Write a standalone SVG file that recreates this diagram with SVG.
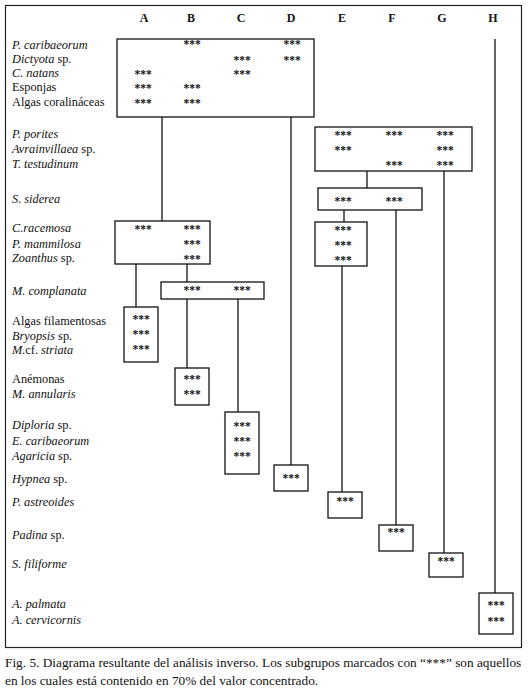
<svg xmlns="http://www.w3.org/2000/svg" width="528" height="691" viewBox="0 0 528 691">
<style>
text{font-family:"Liberation Serif","Times New Roman",serif;fill:#111}
.lb{font-size:12.3px}
.i{font-style:italic}
.hd{font-size:12px;font-weight:bold;text-anchor:middle}
.st{font-size:11.5px;font-weight:bold;text-anchor:middle}
.bx{fill:none;stroke:#111;stroke-width:1.3}
.cn line{stroke:#111;stroke-width:1.3}
.cap{font-size:13.3px}
</style>
<rect width="528" height="691" fill="#fff"/>
<rect x="5.5" y="5.5" width="516" height="642" fill="none" stroke="#222" stroke-width="1.2"/>
<g id="headers">
<text class="hd" x="144" y="22">A</text>
<text class="hd" x="191" y="22">B</text>
<text class="hd" x="241" y="22">C</text>
<text class="hd" x="291" y="22">D</text>
<text class="hd" x="342" y="22">E</text>
<text class="hd" x="392" y="22">F</text>
<text class="hd" x="442" y="22">G</text>
<text class="hd" x="493" y="22">H</text>
</g>
<g id="labels" class="lb">
<text x="12" y="49" class="i">P. caribaeorum</text>
<text x="12" y="63"><tspan class="i">Dictyota</tspan> sp.</text>
<text x="12" y="77" class="i">C. natans</text>
<text x="12" y="91">Esponjas</text>
<text x="12" y="106">Algas coralináceas</text>
<text x="12" y="138" class="i">P. porites</text>
<text x="12" y="153"><tspan class="i">Avrainvillaea</tspan> sp.</text>
<text x="12" y="168" class="i">T. testudinum</text>
<text x="12" y="203" class="i">S. siderea</text>
<text x="12" y="232" class="i">C.racemosa</text>
<text x="12" y="248" class="i">P. mammilosa</text>
<text x="12" y="262"><tspan class="i">Zoanthus</tspan> sp.</text>
<text x="12" y="295" class="i">M. complanata</text>
<text x="12" y="325">Algas filamentosas</text>
<text x="12" y="340"><tspan class="i">Bryopsis</tspan> sp.</text>
<text x="12" y="354"><tspan class="i">M.</tspan>cf. <tspan class="i">striata</tspan></text>
<text x="12" y="383">Anémonas</text>
<text x="12" y="398" class="i">M. annularis</text>
<text x="12" y="429"><tspan class="i">Diploria</tspan> sp.</text>
<text x="12" y="445" class="i">E. caribaeorum</text>
<text x="12" y="460"><tspan class="i">Agaricia</tspan> sp.</text>
<text x="12" y="483"><tspan class="i">Hypnea</tspan> sp.</text>
<text x="12" y="506" class="i">P. astreoides</text>
<text x="12" y="539"><tspan class="i">Padina</tspan> sp.</text>
<text x="12" y="568" class="i">S. filiforme</text>
<text x="12" y="608" class="i">A. palmata</text>
<text x="12" y="624" class="i">A. cervicornis</text>
</g>
<g class="cn" id="connectors">
<line x1="162" y1="117" x2="162" y2="221"/>
<line x1="291" y1="117" x2="291" y2="465"/>
<line x1="495" y1="39" x2="495" y2="593"/>
<line x1="367" y1="171" x2="367" y2="188"/>
<line x1="444" y1="171" x2="444" y2="553"/>
<line x1="344" y1="210" x2="344" y2="222"/>
<line x1="396" y1="210" x2="396" y2="525"/>
<line x1="342" y1="266" x2="342" y2="492"/>
<line x1="136" y1="264" x2="136" y2="307"/>
<line x1="187" y1="264" x2="187" y2="282"/>
<line x1="187" y1="299" x2="187" y2="368"/>
<line x1="238" y1="299" x2="238" y2="412"/>
</g>
<g id="n1">
<rect class="bx" x="117" y="39" width="197" height="78"/>
<text class="st" x="192" y="48">***</text><text class="st" x="292" y="48">***</text>
<text class="st" x="242" y="64">***</text><text class="st" x="292" y="64">***</text>
<text class="st" x="143" y="78">***</text><text class="st" x="242" y="78">***</text>
<text class="st" x="143" y="92">***</text><text class="st" x="192" y="92">***</text>
<text class="st" x="143" y="107">***</text><text class="st" x="192" y="107">***</text>
</g>
<g id="n2">
<rect class="bx" x="315" y="127" width="157" height="44"/>
<text class="st" x="343" y="139">***</text><text class="st" x="394" y="139">***</text><text class="st" x="445" y="139">***</text>
<text class="st" x="343" y="154">***</text><text class="st" x="445" y="154">***</text>
<text class="st" x="394" y="169">***</text><text class="st" x="445" y="169">***</text>
</g>
<g id="n3">
<rect class="bx" x="318" y="188" width="104" height="22"/>
<text class="st" x="343" y="205">***</text><text class="st" x="394" y="205">***</text>
</g>
<g id="n4">
<rect class="bx" x="315" y="222" width="52" height="44"/>
<text class="st" x="343" y="234">***</text>
<text class="st" x="343" y="249">***</text>
<text class="st" x="343" y="264">***</text>
</g>
<g id="n5">
<rect class="bx" x="115" y="221" width="95" height="43"/>
<text class="st" x="143" y="233">***</text><text class="st" x="192" y="233">***</text>
<text class="st" x="192" y="248">***</text>
<text class="st" x="192" y="263">***</text>
</g>
<g id="n6">
<rect class="bx" x="161" y="282" width="103" height="17"/>
<text class="st" x="192" y="294">***</text><text class="st" x="242" y="294">***</text>
</g>
<g id="n7">
<rect class="bx" x="124" y="307" width="34" height="55"/>
<text class="st" x="141" y="323">***</text>
<text class="st" x="141" y="338">***</text>
<text class="st" x="141" y="353">***</text>
</g>
<g id="n8">
<rect class="bx" x="175" y="368" width="34" height="37"/>
<text class="st" x="192" y="383">***</text>
<text class="st" x="192" y="398">***</text>
</g>
<g id="n9">
<rect class="bx" x="225" y="412" width="34" height="62"/>
<text class="st" x="242" y="430">***</text>
<text class="st" x="242" y="445">***</text>
<text class="st" x="242" y="460">***</text>
</g>
<g id="n10">
<rect class="bx" x="274" y="465" width="34" height="26"/>
<text class="st" x="291" y="482">***</text>
</g>
<g id="n11">
<rect class="bx" x="328" y="492" width="34" height="26"/>
<text class="st" x="345" y="505">***</text>
</g>
<g id="n12">
<rect class="bx" x="379" y="525" width="34" height="26"/>
<text class="st" x="396" y="536">***</text>
</g>
<g id="n13">
<rect class="bx" x="429" y="553" width="34" height="24"/>
<text class="st" x="446" y="565">***</text>
</g>
<g id="n14">
<rect class="bx" x="479" y="593" width="34" height="41"/>
<text class="st" x="496" y="609">***</text>
<text class="st" x="496" y="625">***</text>
</g>
<g id="caption" class="cap">
<text x="5" y="667">Fig. 5. Diagrama resultante del análisis inverso. Los subgrupos marcados con “***” son aquellos</text>
<text x="5" y="685">en los cuales está contenido en 70% del valor concentrado.</text>
</g>
</svg>
